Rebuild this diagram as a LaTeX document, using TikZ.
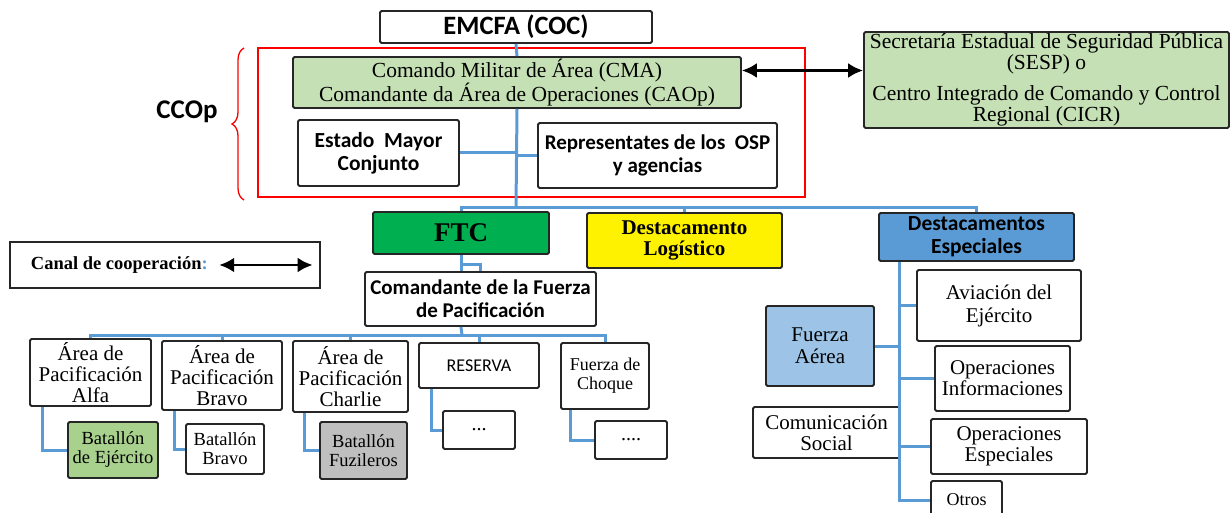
\documentclass[tikz,border=0pt]{standalone}
\usepackage{fontspec}
\setmainfont{Liberation Serif}
\newfontfamily\calibri{Carlito}
\usetikzlibrary{arrows.meta, positioning, decorations.pathreplacing}
\newcommand\calb[2]{\calibri\bfseries\fontsize{#1}{#2}\selectfont}
\newcommand\tmsz[2]{\fontsize{#1}{#2}\selectfont}
\definecolor{lnkblue}{RGB}{91,155,213}
\definecolor{palegreen}{RGB}{197,224,180}
\definecolor{ftcgreen}{RGB}{0,176,80}
\definecolor{deblue}{RGB}{91,155,213}
\definecolor{fablue}{RGB}{157,195,230}
\definecolor{batgreen}{RGB}{169,209,142}
\definecolor{fzgray}{RGB}{191,191,191}
\tikzset{
  box/.style={draw=black!85, line width=1.8pt, rounded corners=1.5pt, fill=white, align=center, inner sep=1pt},
  lnk/.style={draw=lnkblue, line width=3pt},
  coop/.style={{Latex[length=15pt,width=15pt]}-{Latex[length=15pt,width=15pt]}, line width=2.8pt}
}
\begin{document}
\begin{tikzpicture}[x=1pt, y=-1pt]
        \useasboundingbox (0,0) rectangle (1231,513);
        \draw[red, line width=2.2pt] (258,48) rectangle (805,197);
        \draw[red, line width=1.3pt, decorate, decoration={brace, amplitude=12pt}] (244,200) -- (244,48);
        \node[font=\calb{27}{30}] (ccop) at (187,112) {CCOp};

        \node[box, font=\calb{26.5}{30}, minimum width=272pt, minimum height=32pt] (emcfa) at (516,27) {EMCFA (COC)};
        \node[box, fill=palegreen, font=\tmsz{21.5}{21}, minimum width=448pt, minimum height=51pt] (cma) at (517,82.5) {Comando Militar de Área (CMA)\\Comandante da Área de Operaciones (CAOp)};
        \node[box, font=\calb{21.5}{23}, minimum width=161pt, minimum height=66pt] (estado) at (378.5,153) {Estado\ \ Mayor\\Conjunto};
        \node[box, font=\calb{21}{23}, minimum width=239pt, minimum height=65pt] (repr) at (657.5,155.5) {Representates de los\ \ OSP\\y agencias};
        \node[box, fill=palegreen, font=\tmsz{21.5}{21}, minimum width=365pt, minimum height=96pt] (sesp) at (1046.5,80) {Secretaría Estadual de Seguridad Pública\\(SESP) o\\[10pt]Centro Integrado de Comando y Control\\Regional (CICR)};

        \node[box, fill=ftcgreen, font=\tmsz{27}{27}\bfseries, minimum width=176pt, minimum height=42pt] (ftc) at (461,233) {FTC};
        \node[box, fill=yellow, font=\tmsz{21}{21}\bfseries, minimum width=195pt, minimum height=55pt] (log) at (684.5,240.5) {Destacamento\\Logístico};
        \node[box, fill=deblue, font=\calb{21.5}{23}, minimum width=195pt, minimum height=48pt] (de) at (976.5,237) {Destacamentos\\Especiales};

        \node[box, rounded corners=0pt, line width=1.2pt, minimum width=310pt, minimum height=46pt] (legend) at (165,265) {};
        \node[font=\tmsz{18.5}{20}\bfseries, anchor=west] (legtext) at ([xshift=18pt]legend.west) {Canal de cooperación{\color{lnkblue}:}};
        \coordinate[left=8pt of legend.east] (legend end);

        \node[box, font=\calb{21}{23}, minimum width=231pt, minimum height=54pt] (com) at (480.5,299) {Comandante de la Fuerza\\de Pacificación};

        \node[box, font=\tmsz{21}{21}, minimum width=121pt, minimum height=67pt] (alfa) at (90.5,372.5) {Área de\\Pacificación\\Alfa};
        \node[box, font=\tmsz{21}{21}, minimum width=120pt, minimum height=69pt] (bravo) at (222,375.5) {Área de\\Pacificación\\Bravo};
        \node[box, font=\tmsz{21}{21}, minimum width=115pt, minimum height=71pt] (charlie) at (350.5,376.5) {Área de\\Pacificación\\Charlie};
        \node[box, font=\calibri\fontsize{18}{22}\selectfont, minimum width=120pt, minimum height=45pt] (reserva) at (479,365.5) {RESERVA};
        \node[box, font=\tmsz{18}{19}, minimum width=88pt, minimum height=66pt] (choque) at (605,376) {Fuerza de\\Choque};

        \node[box, fill=batgreen, font=\tmsz{18.5}{19}, minimum width=90pt, minimum height=56pt] (batej) at (113,450) {Batallón\\de Ejército};
        \node[box, font=\tmsz{18.5}{19}, minimum width=78pt, minimum height=50pt] (batbr) at (225,449) {Batallón\\Bravo};
        \node[box, fill=fzgray, font=\tmsz{18.5}{19}, minimum width=87pt, minimum height=57pt] (batfz) at (363.5,450.5) {Batallón\\Fuzileros};
        \node[box, font=\tmsz{20}{20}, minimum width=72pt, minimum height=38pt] (resdots) at (479,430) {...};
        \node[box, font=\tmsz{20}{20}, minimum width=72pt, minimum height=38pt] (chqdots) at (631,440) {....};

        \node[box, font=\tmsz{21}{23}, minimum width=164pt, minimum height=71pt] (avi) at (999,305.5) {Aviación del\\Ejército};
        \node[box, fill=fablue, font=\tmsz{21}{22}, minimum width=108pt, minimum height=80pt] (fa) at (820,346) {Fuerza\\Aérea};
        \node[box, font=\tmsz{21}{21}, minimum width=135pt, minimum height=65pt] (opinf) at (1002.5,378.5) {Operaciones\\Informaciones};
        \node[box, font=\tmsz{21}{21}, minimum width=147pt, minimum height=51pt] (comsoc) at (826.5,432.5) {Comunicación\\Social};
        \node[box, font=\tmsz{21}{21}, minimum width=156pt, minimum height=55pt] (opesp) at (1009,446.5) {Operaciones\\Especiales};
        \node[box, font=\tmsz{18}{18}, minimum width=71pt, minimum height=38pt] (otros) at (966.5,500) {Otros};

        \coordinate (hub) at (516,208);
        \coordinate (hub2) at (462,335);
        \coordinate (detrunk) at ([xshift=21pt]de.south west);

        \draw[lnk] (emcfa.south) -- (cma.north);
        \draw[lnk] (cma.south) -- (hub);
        \draw[lnk] (estado.east) -- (estado.east -| hub);
        \draw[lnk] (repr.west) -- (repr.west -| hub);
        \draw[lnk] (ftc.north) |- (hub) -| (de.north);
        \draw[lnk] (log.north) -- (log.north |- hub);

        \draw[lnk] (ftc.south) -- (ftc.south |- com.north);
        \draw[lnk] (ftc.south) |- ([yshift=7pt]com.north) -- (com.north);
        \draw[lnk] (ftc.south |- com.south) -- (hub2);
        \draw[lnk] (alfa.north) |- (hub2) -| (choque.north);
        \foreach \n in {bravo, charlie, reserva}
            \draw[lnk] (\n.north) -- (\n.north |- hub2);

        \draw[lnk] ([xshift=13pt]alfa.south west) |- (batej.west);
        \draw[lnk] ([xshift=13pt]bravo.south west) |- (batbr.west);
        \draw[lnk] ([xshift=12pt]charlie.south west) |- (batfz.west);
        \draw[lnk] ([xshift=13pt]reserva.south west) |- (resdots.west);
        \draw[lnk] ([xshift=10pt]choque.south west) |- (chqdots.west);

        \draw[lnk] (detrunk) |- (otros.west);
        \foreach \n in {avi, opinf, opesp}
            \draw[lnk] (\n.west) -- (\n.west -| detrunk);
        \draw[lnk] (fa.east) -- (fa.east -| detrunk);

        \draw[coop] ([yshift=12pt]cma.east) -- ([yshift=12pt]cma.east -| sesp.west);
        \draw[coop] ([xshift=8pt]legtext.east) -- (legend end);
    \end{tikzpicture}
\end{document}
